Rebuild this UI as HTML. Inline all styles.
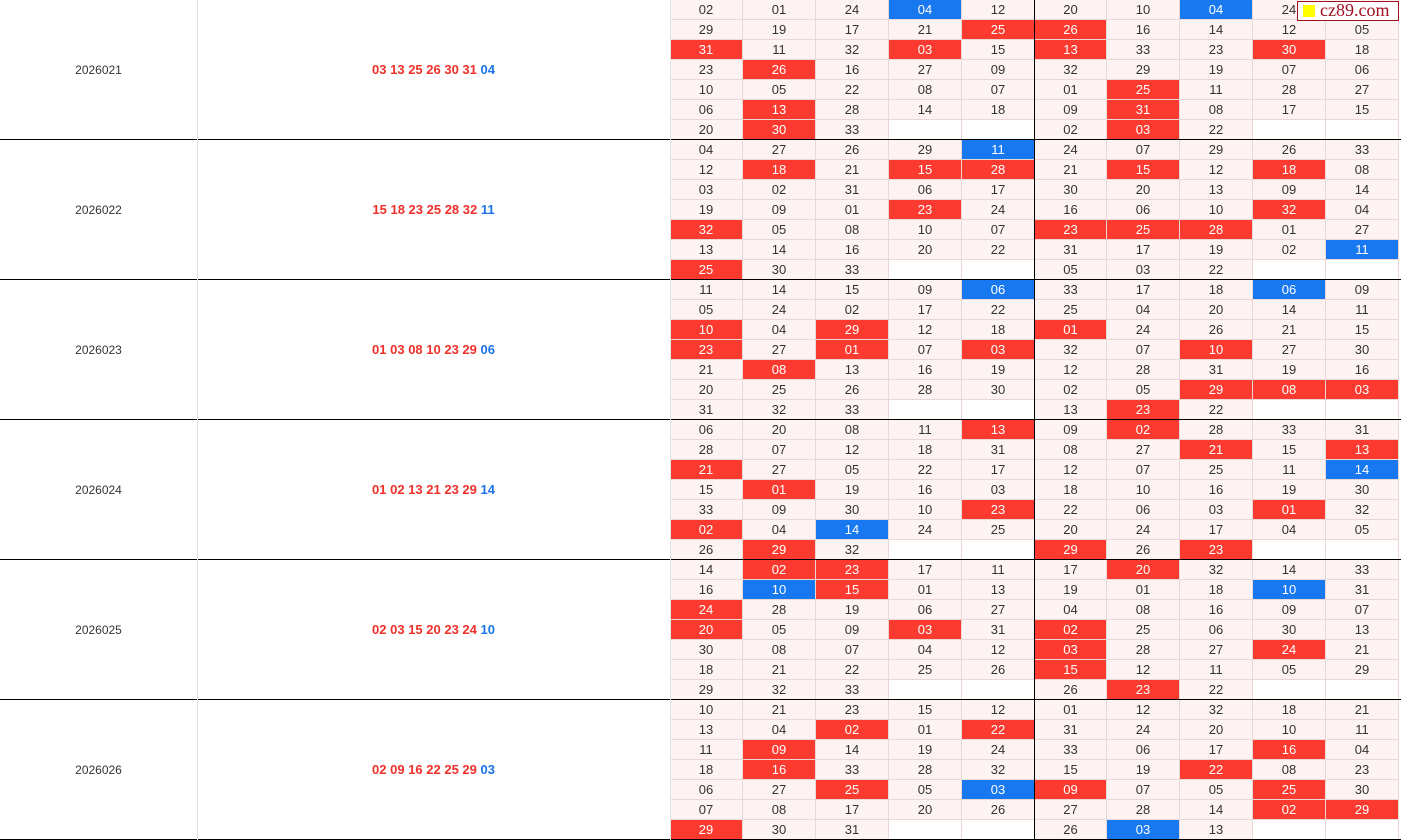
<!DOCTYPE html>
<html><head><meta charset="utf-8"><style>
body{margin:0;width:1401px;height:840px;overflow:hidden;background:#fff;font-family:"Liberation Sans","DejaVu Sans",sans-serif;position:relative}
.c{position:absolute;height:20px;line-height:20px;text-align:center;font-size:13px;color:#333;box-sizing:border-box;border-right:1px solid #ead8d6;border-bottom:1px solid #ead8d6;background:#fdf3f2}
.e{background:#fff}
.r{background:#fd3a2f;color:#fff}
.b{background:#1878f0;color:#fff}
.p{position:absolute;font-size:12px;color:#333;text-align:center}
.n{position:absolute;font-size:13px;font-weight:bold;color:#f0302a;text-align:center}
.n span{color:#1a73e8}
.line{position:absolute;background:#000}
</style></head><body>
<div id="g"></div>
<div style="position:absolute;left:1297px;top:1px;width:102px;height:20px;box-sizing:border-box;background:#fff;border:1px solid #a01020;font-family:'Liberation Serif',serif;font-size:18px;line-height:17px;color:#a01020;padding-left:22px;">cz89.com<div style="position:absolute;left:5px;top:3px;width:12px;height:12px;background:#ff0"></div></div>
<script>
var D=[
["2026021","03 13 25 26 30 31","04",[
"02,01,24,04B,12,20,10,04B,24,13",
"29,19,17,21,25R,26R,16,14,12,05",
"31R,11,32,03R,15,13R,33,23,30R,18",
"23,26R,16,27,09,32,29,19,07,06",
"10,05,22,08,07,01,25R,11,28,27",
"06,13R,28,14,18,09,31R,08,17,15",
"20,30R,33,_,_,02,03R,22,_,_"]],
["2026022","15 18 23 25 28 32","11",[
"04,27,26,29,11B,24,07,29,26,33",
"12,18R,21,15R,28R,21,15R,12,18R,08",
"03,02,31,06,17,30,20,13,09,14",
"19,09,01,23R,24,16,06,10,32R,04",
"32R,05,08,10,07,23R,25R,28R,01,27",
"13,14,16,20,22,31,17,19,02,11B",
"25R,30,33,_,_,05,03,22,_,_"]],
["2026023","01 03 08 10 23 29","06",[
"11,14,15,09,06B,33,17,18,06B,09",
"05,24,02,17,22,25,04,20,14,11",
"10R,04,29R,12,18,01R,24,26,21,15",
"23R,27,01R,07,03R,32,07,10R,27,30",
"21,08R,13,16,19,12,28,31,19,16",
"20,25,26,28,30,02,05,29R,08R,03R",
"31,32,33,_,_,13,23R,22,_,_"]],
["2026024","01 02 13 21 23 29","14",[
"06,20,08,11,13R,09,02R,28,33,31",
"28,07,12,18,31,08,27,21R,15,13R",
"21R,27,05,22,17,12,07,25,11,14B",
"15,01R,19,16,03,18,10,16,19,30",
"33,09,30,10,23R,22,06,03,01R,32",
"02R,04,14B,24,25,20,24,17,04,05",
"26,29R,32,_,_,29R,26,23R,_,_"]],
["2026025","02 03 15 20 23 24","10",[
"14,02R,23R,17,11,17,20R,32,14,33",
"16,10B,15R,01,13,19,01,18,10B,31",
"24R,28,19,06,27,04,08,16,09,07",
"20R,05,09,03R,31,02R,25,06,30,13",
"30,08,07,04,12,03R,28,27,24R,21",
"18,21,22,25,26,15R,12,11,05,29",
"29,32,33,_,_,26,23R,22,_,_"]],
["2026026","02 09 16 22 25 29","03",[
"10,21,23,15,12,01,12,32,18,21",
"13,04,02R,01,22R,31,24,20,10,11",
"11,09R,14,19,24,33,06,17,16R,04",
"18,16R,33,28,32,15,19,22R,08,23",
"06,27,25R,05,03B,09R,07,05,25R,30",
"07,08,17,20,26,27,28,14,02R,29R",
"29R,30,31,_,_,26,03B,13,_,_"]]];
var X=[670,743,816,889,962,1035,1107,1180,1253,1326,1399];
var h='';
D.forEach(function(b,i){
 var y0=i*140;
 h+='<div class="p" style="left:0;top:'+(y0+60)+'px;width:197px;line-height:20px">'+b[0]+'</div>';
 h+='<div class="n" style="left:197px;top:'+(y0+60)+'px;width:473px;line-height:20px">'+b[1]+' <span>'+b[2]+'</span></div>';
 b[3].forEach(function(r,j){
  r.split(',').forEach(function(v,k){
   var cls='c',t=v;
   if(v=='_'){cls+=' e';t='';}
   else if(v.slice(-1)=='R'){cls+=' r';t=v.slice(0,2);}
   else if(v.slice(-1)=='B'){cls+=' b';t=v.slice(0,2);}
   h+='<div class="'+cls+'" style="left:'+X[k]+'px;top:'+(y0+j*20)+'px;width:'+(X[k+1]-X[k])+'px">'+t+'</div>';
  });
 });
 h+='<div class="line" style="left:0;top:'+(y0+139)+'px;width:1401px;height:1px"></div>';
});
h+='<div style="position:absolute;left:197px;top:0;width:1px;height:840px;background:#e4e4e4"></div>';
h+='<div style="position:absolute;left:670px;top:0;width:1px;height:840px;background:#e4e4e4"></div>';
h+='<div class="line" style="left:1034px;top:0;width:1px;height:840px"></div>';
document.getElementById('g').innerHTML=h;
</script>
</body></html>
